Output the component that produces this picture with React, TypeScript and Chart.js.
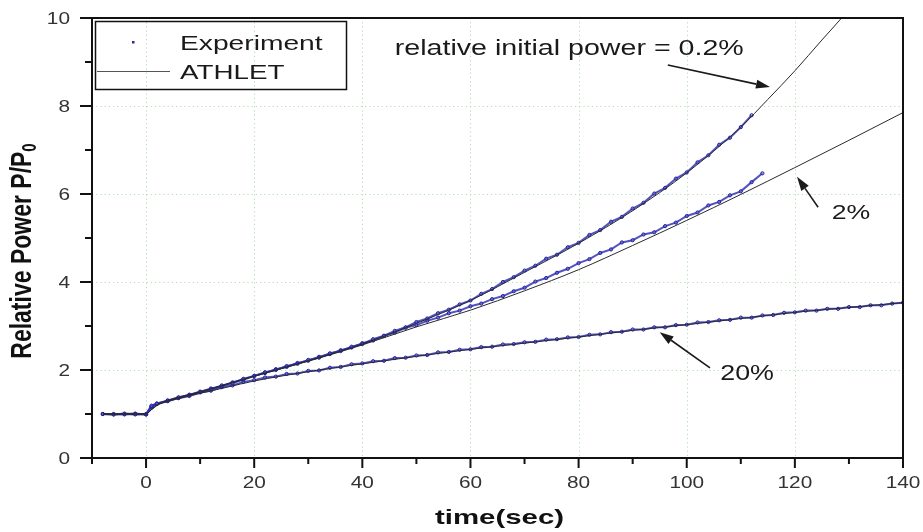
import React, { useEffect, useRef } from "react";
import { Chart, registerables } from "chart.js";

Chart.register(...registerables);

// ---------- DATA ----------
const expTime = [-8, -6, -4, -2, 0, 1, 2, 4, 6, 8, 10, 12, 14, 16, 18, 20, 22, 24, 26, 28, 30, 32, 34, 36, 38, 40, 42, 44, 46, 48, 50, 52, 54, 56, 58, 60, 62, 64, 66, 68, 70, 72, 74, 76, 78, 80, 82, 84, 86, 88, 90, 92, 94, 96, 98, 100, 102, 104, 106, 108, 110, 112, 114, 116, 118, 120, 122, 124, 126, 128, 130, 132, 134, 136, 138, 140];

// Experiment, relative initial power 0.2 % (ends ~112 s)
const exp02 = [1.0, 0.99, 1.01, 0.99, 1.0, 1.19, 1.24, 1.3, 1.38, 1.43, 1.51, 1.56, 1.65, 1.7, 1.8, 1.86, 1.95, 2.0, 2.09, 2.14, 2.23, 2.28, 2.38, 2.43, 2.53, 2.59, 2.7, 2.78, 2.89, 2.97, 3.09, 3.17, 3.29, 3.37, 3.49, 3.58, 3.73, 3.84, 4.0, 4.11, 4.26, 4.37, 4.53, 4.62, 4.79, 4.89, 5.07, 5.18, 5.37, 5.48, 5.67, 5.8, 6.01, 6.14, 6.35, 6.49, 6.72, 6.88, 7.12, 7.28, 7.52, 7.79];

// Experiment, relative initial power 2 % (ends ~114 s)
const exp2 = [1.0, 1.0, 0.99, 1.0, 0.99, 1.17, 1.23, 1.31, 1.37, 1.44, 1.5, 1.58, 1.63, 1.72, 1.78, 1.87, 1.93, 2.02, 2.07, 2.16, 2.21, 2.3, 2.36, 2.45, 2.51, 2.61, 2.67, 2.77, 2.85, 2.96, 3.02, 3.12, 3.19, 3.29, 3.35, 3.45, 3.51, 3.61, 3.68, 3.79, 3.87, 4.01, 4.09, 4.21, 4.3, 4.43, 4.52, 4.66, 4.74, 4.9, 4.95, 5.08, 5.13, 5.27, 5.35, 5.5, 5.58, 5.74, 5.82, 5.97, 6.06, 6.27, 6.47];

// Experiment, relative initial power 20 %
const exp20 = [1.0, 0.99, 1.0, 1.01, 0.99, 1.16, 1.23, 1.29, 1.36, 1.41, 1.49, 1.53, 1.61, 1.65, 1.73, 1.77, 1.83, 1.85, 1.91, 1.92, 1.98, 1.99, 2.05, 2.07, 2.13, 2.15, 2.2, 2.21, 2.27, 2.28, 2.33, 2.34, 2.4, 2.41, 2.46, 2.47, 2.52, 2.53, 2.58, 2.59, 2.63, 2.64, 2.69, 2.7, 2.74, 2.75, 2.8, 2.81, 2.86, 2.87, 2.92, 2.92, 2.97, 2.97, 3.02, 3.03, 3.08, 3.09, 3.13, 3.14, 3.19, 3.19, 3.24, 3.25, 3.3, 3.31, 3.35, 3.35, 3.39, 3.39, 3.43, 3.43, 3.47, 3.47, 3.51, 3.53];

// ATHLET calculations
const athTime02 = [-8, 0, 1, 2, 3, 5, 10, 15, 20, 30, 40, 50, 60, 70, 80, 90, 100, 110, 115, 120, 125, 129, 131];
const ath02 = [1.0, 1.0, 1.1, 1.2, 1.26, 1.34, 1.5, 1.68, 1.86, 2.21, 2.59, 3.06, 3.58, 4.22, 4.88, 5.62, 6.48, 7.52, 8.15, 8.8, 9.5, 10.05, 10.35];

const athTime2 = [-8, 0, 1, 2, 3, 5, 10, 15, 20, 30, 40, 50, 60, 70, 80, 90, 100, 110, 120, 130, 140];
const ath2 = [1.0, 1.0, 1.1, 1.2, 1.26, 1.34, 1.5, 1.68, 1.86, 2.2, 2.57, 2.98, 3.36, 3.8, 4.28, 4.83, 5.4, 5.99, 6.6, 7.22, 7.85];

const athTime20 = [-8, 0, 1, 2, 3, 5, 10, 15, 20, 30, 40, 50, 60, 70, 80, 90, 100, 110, 120, 130, 140];
const ath20 = [1.0, 1.0, 1.1, 1.19, 1.25, 1.32, 1.47, 1.61, 1.75, 1.96, 2.14, 2.31, 2.47, 2.61, 2.75, 2.9, 3.03, 3.17, 3.31, 3.42, 3.53];

// Axis ticks
const xMajorTicks = [0, 20, 40, 60, 80, 100, 120, 140];
const xMinorTicks = [-10, 10, 30, 50, 70, 90, 110, 130];
const yMajorTicks = [0, 2, 4, 6, 8, 10];
const yMinorTicks = [1, 3, 5, 7, 9];
const xGrid = [0, 20, 40, 60, 80, 100, 120];
const yGrid = [2, 4, 6, 8];

const legendLabels = ["Experiment", "ATHLET"];
const xTitle = "time(sec)";
const yTitle = "Relative Power P/P";
const yTitleSub = "0";

// annotations in data coordinates: [x, y]
const noteTexts = ["relative initial power = 0.2%", "2%", "20%"];
const notePos = [[46.0, 9.16], [126.8, 5.43], [106.2, 1.77]];
const arrowTails = [[96.5, 8.93], [124.3, 5.7], [104.3, 2.05]];
const arrowTips = [[115.4, 8.43], [120.4, 6.39], [95.0, 2.86]];

// ---------- helpers ----------
const FONT = "'Liberation Sans', Arial, sans-serif";

function pts(xs: number[], ys: number[]) {
  return ys.map((y, i) => ({ x: xs[i], y }));
}

function sText(
  ctx: CanvasRenderingContext2D,
  text: string,
  x: number,
  y: number,
  font: string,
  sx: number,
  align: "left" | "center" | "right",
  color = "#1a1a1a"
) {
  ctx.save();
  ctx.font = font;
  ctx.fillStyle = color;
  ctx.textBaseline = "alphabetic";
  ctx.textAlign = "left";
  const w = ctx.measureText(text).width * sx;
  const x0 = align === "left" ? x : align === "center" ? x - w / 2 : x - w;
  ctx.translate(x0, y);
  ctx.scale(sx, 1);
  ctx.fillText(text, 0, 0);
  ctx.restore();
}

function arrow(ctx: CanvasRenderingContext2D, x1: number, y1: number, x2: number, y2: number) {
  const ang = Math.atan2(y2 - y1, x2 - x1);
  const hl = 14;
  const hw = 4.5;
  const bx = x2 - hl * Math.cos(ang);
  const by = y2 - hl * Math.sin(ang);
  ctx.save();
  ctx.strokeStyle = "#1a1a1a";
  ctx.fillStyle = "#1a1a1a";
  ctx.lineWidth = 1.6;
  ctx.beginPath();
  ctx.moveTo(x1, y1);
  ctx.lineTo(bx, by);
  ctx.stroke();
  ctx.beginPath();
  ctx.moveTo(x2, y2);
  ctx.lineTo(bx + hw * Math.sin(ang), by - hw * Math.cos(ang));
  ctx.lineTo(bx - hw * Math.sin(ang), by + hw * Math.cos(ang));
  ctx.closePath();
  ctx.fill();
  ctx.restore();
}

const decor = {
  id: "decor",
  beforeDatasetsDraw(chart: any) {
    const { ctx, chartArea: a, scales } = chart;
    const xs = scales.x;
    const ys = scales.y;
    ctx.save();
    ctx.strokeStyle = "#b3ddb3";
    ctx.lineWidth = 1;
    ctx.setLineDash([1.2, 3]);
    xGrid.forEach((v) => {
      const px = Math.round(xs.getPixelForValue(v)) + 0.5;
      ctx.beginPath();
      ctx.moveTo(px, a.top);
      ctx.lineTo(px, a.bottom);
      ctx.stroke();
    });
    yGrid.forEach((v) => {
      const py = Math.round(ys.getPixelForValue(v)) + 0.5;
      ctx.beginPath();
      ctx.moveTo(a.left, py);
      ctx.lineTo(a.right, py);
      ctx.stroke();
    });
    ctx.restore();
  },
  afterDatasetsDraw(chart: any) {
    const { ctx, chartArea: a, scales } = chart;
    const xs = scales.x;
    const ys = scales.y;
    ctx.save();
    // frame
    ctx.strokeStyle = "#111";
    ctx.lineWidth = 2;
    ctx.setLineDash([]);
    ctx.strokeRect(a.left, a.top, a.right - a.left, a.bottom - a.top);
    // ticks
    const tick = (px: number, py: number, dx: number, dy: number) => {
      ctx.beginPath();
      ctx.moveTo(px, py);
      ctx.lineTo(px + dx, py + dy);
      ctx.stroke();
    };
    xMajorTicks.forEach((v) => tick(xs.getPixelForValue(v), a.bottom, 0, 10));
    xMinorTicks.forEach((v) => tick(xs.getPixelForValue(v), a.bottom, 0, 6));
    yMajorTicks.forEach((v) => tick(a.left, ys.getPixelForValue(v), -12, 0));
    yMinorTicks.forEach((v) => tick(a.left, ys.getPixelForValue(v), -7, 0));
    ctx.restore();

    // tick labels
    const tf = `16px ${FONT}`;
    xMajorTicks.forEach((v) =>
      sText(ctx, String(v), xs.getPixelForValue(v), a.bottom + 30, tf, 1.3, "center", "#333")
    );
    yMajorTicks.forEach((v) =>
      sText(ctx, String(v), a.left - 22, ys.getPixelForValue(v) + 6, tf, 1.3, "right", "#333")
    );

    // x title
    sText(ctx, xTitle, (a.left + a.right) / 2 + 2, 524, `bold 21px ${FONT}`, 1.4, "center", "#111");

    // y title (rotated)
    ctx.save();
    ctx.fillStyle = "#111";
    const mf = `bold 23px ${FONT}`;
    const sf = `bold 15px ${FONT}`;
    ctx.font = mf;
    const w1 = ctx.measureText(yTitle).width;
    ctx.font = sf;
    const w2 = ctx.measureText(yTitleSub).width;
    ctx.translate(31, 251);
    ctx.rotate(-Math.PI / 2);
    ctx.scale(1, 1.3);
    ctx.textAlign = "left";
    ctx.textBaseline = "alphabetic";
    ctx.font = mf;
    ctx.fillText(yTitle, -(w1 + w2) / 2, 0);
    ctx.font = sf;
    ctx.fillText(yTitleSub, -(w1 + w2) / 2 + w1, 4);
    ctx.restore();

    // legend box
    ctx.save();
    ctx.strokeStyle = "#111";
    ctx.lineWidth = 1.5;
    ctx.strokeRect(95.5, 21.5, 251, 68);
    ctx.fillStyle = "#2a2aa8";
    ctx.fillRect(132, 41, 2.5, 2.5);
    ctx.strokeStyle = "#555";
    ctx.lineWidth = 1;
    ctx.beginPath();
    ctx.moveTo(97, 71.5);
    ctx.lineTo(170, 71.5);
    ctx.stroke();
    ctx.restore();
    sText(ctx, legendLabels[0], 180, 49.5, `20px ${FONT}`, 1.41, "left");
    sText(ctx, legendLabels[1], 180, 79, `20px ${FONT}`, 1.39, "left");

    // annotations
    const noteFonts = [`22px ${FONT}`, `21px ${FONT}`, `22px ${FONT}`];
    const noteScale = [1.3, 1.27, 1.22];
    noteTexts.forEach((t, i) => {
      sText(
        ctx,
        t,
        xs.getPixelForValue(notePos[i][0]),
        ys.getPixelForValue(notePos[i][1]),
        noteFonts[i],
        noteScale[i],
        "left"
      );
    });
    arrowTails.forEach((tl, i) => {
      arrow(
        ctx,
        xs.getPixelForValue(tl[0]),
        ys.getPixelForValue(tl[1]),
        xs.getPixelForValue(arrowTips[i][0]),
        ys.getPixelForValue(arrowTips[i][1])
      );
    });
  },
};

export default function App() {
  const ref = useRef<HTMLCanvasElement | null>(null);

  useEffect(() => {
    if (!ref.current) return;
    const expStyle = {
      borderColor: "rgba(40,40,175,0.8)",
      borderWidth: 2,
      pointRadius: 1.6,
      pointBorderWidth: 1,
      pointBorderColor: "#1e1e9e",
      pointBackgroundColor: "rgba(120,120,220,0.5)",
      showLine: true,
      order: 1,
    };
    const athStyle = {
      borderColor: "#2a2a2a",
      borderWidth: 1,
      pointRadius: 0,
      cubicInterpolationMode: "monotone" as const,
      order: 0,
    };
    const chart = new Chart(ref.current, {
      type: "line",
      data: {
        datasets: [
          { label: "ATHLET 0.2%", data: pts(athTime02, ath02), ...athStyle },
          { label: "ATHLET 2%", data: pts(athTime2, ath2), ...athStyle },
          { label: "ATHLET 20%", data: pts(athTime20, ath20), ...athStyle },
          { label: "Experiment 0.2%", data: pts(expTime, exp02), ...expStyle },
          { label: "Experiment 2%", data: pts(expTime, exp2), ...expStyle },
          { label: "Experiment 20%", data: pts(expTime, exp20), ...expStyle },
        ],
      },
      options: {
        responsive: false,
        animation: false,
        devicePixelRatio: 1,
        layout: { padding: { left: 92, right: 20, top: 18, bottom: 74 } },
        scales: {
          x: { type: "linear", min: -10, max: 140, display: false },
          y: { type: "linear", min: 0, max: 10, display: false },
        },
        plugins: {
          legend: { display: false },
          tooltip: { enabled: false },
        },
        events: [],
      },
      plugins: [decor],
    });
    return () => chart.destroy();
  }, []);

  return (
    <div style={{ position: "fixed", left: 0, top: 0, width: 923, height: 532, background: "#fff" }}>
      <canvas ref={ref} width={923} height={532} style={{ display: "block" }} />
    </div>
  );
}
